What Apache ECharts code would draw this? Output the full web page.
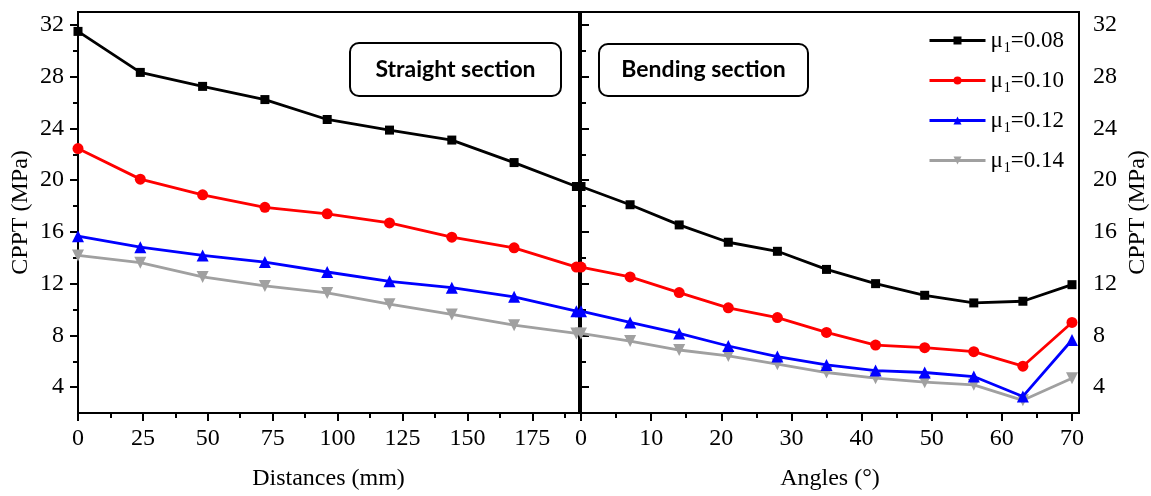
<!DOCTYPE html>
<html>
<head>
<meta charset="utf-8">
<script src="https://cdn.jsdelivr.net/npm/echarts@6/dist/echarts.min.js"></script>
<style>
html, body { margin: 0; padding: 0; background: #fff; }
#chart { width: 1151px; height: 496px; }
</style>
</head>
<body>
<div id="chart"></div>
<script>
// Sample positions along the pipe
const distances = [0, 24, 48, 72, 96, 120, 144, 168, 192];
const angles = [0, 7, 14, 21, 28, 35, 42, 49, 56, 63, 70];

// Friction coefficients
const muValues = ['0.08', '0.10', '0.12', '0.14'];

// CPPT (MPa) in the straight section
const straight008 = [31.5, 28.33, 27.25, 26.23, 24.69, 23.87, 23.1, 21.36, 19.51];
const straight010 = [22.44, 20.08, 18.87, 17.9, 17.4, 16.69, 15.59, 14.77, 13.28];
const straight012 = [15.67, 14.82, 14.18, 13.67, 12.9, 12.18, 11.69, 10.98, 9.87];
const straight014 = [14.18, 13.62, 12.52, 11.82, 11.28, 10.41, 9.62, 8.79, 8.15];

// CPPT (MPa) in the bending section
const bending008 = [19.51, 18.1, 16.54, 15.2, 14.5, 13.1, 12.0, 11.1, 10.51, 10.64, 11.92];
const bending010 = [13.28, 12.52, 11.31, 10.13, 9.38, 8.23, 7.25, 7.05, 6.74, 5.62, 9.0];
const bending012 = [9.87, 9.0, 8.15, 7.18, 6.36, 5.72, 5.28, 5.13, 4.82, 3.28, 7.64];
const bending014 = [8.15, 7.56, 6.87, 6.41, 5.77, 5.13, 4.69, 4.38, 4.18, 2.98, 4.69];

// Tick values
const yTicks = [4, 8, 12, 16, 20, 24, 28, 32];
const yMinorTicks = [6, 10, 14, 18, 22, 26, 30];
const distanceTicks = [0, 25, 50, 75, 100, 125, 150, 175];
const distanceMinorTicks = [12.5, 37.5, 62.5, 87.5, 112.5, 137.5, 162.5, 187.5];
const angleTicks = [0, 10, 20, 30, 40, 50, 60, 70];
const angleMinorTicks = [5, 15, 25, 35, 45, 55, 65];

const straightSets = [straight008, straight010, straight012, straight014];
const bendingSets = [bending008, bending010, bending012, bending014];

const colors = ['#000000', '#ff0000', '#0000ff', '#a0a0a0'];
const symbols = ['rect', 'circle', 'triangle', 'path://M0,0 L10,0 L5,9 Z'];
const symbolSizes = [9, 11, 12, 12];

const serif = '"Liberation Serif", "Times New Roman", serif';
const seriesName = mu => 'μ1=' + mu;

function majorX(grid, min, max, ticks, name) {
  return {
    type: 'value', gridIndex: grid, min: min, max: max, position: 'bottom',
    name: name, nameLocation: 'middle', nameGap: 54,
    nameTextStyle: { fontFamily: serif, fontSize: 24, color: '#000' },
    axisLine: { show: true, lineStyle: { color: '#000', width: 2 } },
    axisTick: { show: true, length: 8, customValues: ticks, lineStyle: { color: '#000', width: 2 } },
    axisLabel: { show: true, customValues: ticks, margin: 14, fontFamily: serif, fontSize: 24, color: '#000' },
    splitLine: { show: false }
  };
}
function minorX(grid, min, max, ticks) {
  return {
    type: 'value', gridIndex: grid, min: min, max: max, position: 'bottom',
    axisLine: { show: false },
    axisTick: { show: true, length: 5, customValues: ticks, lineStyle: { color: '#000', width: 2 } },
    axisLabel: { show: false },
    splitLine: { show: false }
  };
}
function majorY(grid, pos, gap) {
  return {
    type: 'value', gridIndex: grid, min: 2, max: 33, position: pos,
    name: 'CPPT (MPa)', nameLocation: 'middle', nameGap: gap, nameRotate: 90,
    nameTextStyle: { fontFamily: serif, fontSize: 24, color: '#000' },
    axisLine: { show: true, lineStyle: { color: '#000', width: 2 } },
    axisTick: { show: true, length: 8, customValues: yTicks, lineStyle: { color: '#000', width: 2 } },
    axisLabel: { show: true, customValues: yTicks, margin: 14, fontFamily: serif, fontSize: 24, color: '#000' },
    splitLine: { show: false }
  };
}
function minorY(grid, pos) {
  return {
    type: 'value', gridIndex: grid, min: 2, max: 33, position: pos,
    axisLine: { show: false },
    axisTick: { show: true, length: 5, customValues: yMinorTicks, lineStyle: { color: '#000', width: 2 } },
    axisLabel: { show: false },
    splitLine: { show: false }
  };
}

const series = [];
muValues.forEach((mu, k) => {
  const common = {
    type: 'line', name: seriesName(mu),
    symbol: symbols[k], symbolSize: symbolSizes[k],
    lineStyle: { color: colors[k], width: 2.8 },
    itemStyle: { color: colors[k] },
    animation: false, z: 10 - k
  };
  series.push(Object.assign({}, common, {
    xAxisIndex: 0, yAxisIndex: 0,
    data: distances.map((d, i) => [d, straightSets[k][i]])
  }));
  series.push(Object.assign({}, common, {
    xAxisIndex: 2, yAxisIndex: 2,
    data: angles.map((a, i) => [a, bendingSets[k][i]])
  }));
});

function sectionBox(x, y, w, h, label) {
  return [
    { type: 'rect', z: 20, shape: { x: x, y: y, width: w, height: h, r: 9 },
      style: { fill: '#fff', stroke: '#000', lineWidth: 2 } },
    { type: 'text', z: 21, x: x + w / 2, y: y + h / 2,
      style: { text: label, fontFamily: 'Lato, "Open Sans", sans-serif', fontWeight: 'bold',
               fontSize: 23, fill: '#000', align: 'center', verticalAlign: 'middle' } }
  ];
}

const chart = echarts.init(document.getElementById('chart'), null, { renderer: 'canvas' });
chart.setOption({
  backgroundColor: '#fff',
  animation: false,
  grid: [
    { left: 78, top: 12, width: 501, height: 403, show: true, borderColor: '#000', borderWidth: 2, containLabel: false },
    { left: 581, top: 12, width: 498, height: 403, show: true, borderColor: '#000', borderWidth: 2, containLabel: false }
  ],
  xAxis: [
    majorX(0, 0, 193, distanceTicks, 'Distances (mm)'),
    minorX(0, 0, 193, distanceMinorTicks),
    majorX(1, 0, 71, angleTicks, 'Angles (°)'),
    minorX(1, 0, 71, angleMinorTicks)
  ],
  yAxis: [
    majorY(0, 'left', 45),
    minorY(0, 'left'),
    majorY(1, 'right', 47),
    minorY(1, 'right')
  ],
  legend: {
    data: muValues.map(seriesName),
    orient: 'vertical', left: 923, top: 21,
    itemWidth: 56, itemHeight: 10, itemGap: 11,
    lineStyle: { width: 3 },
    formatter: name => '{m|μ}{s|1}{m|=' + name.split('=')[1] + '}',
    textStyle: {
      rich: {
        m: { fontFamily: serif, fontSize: 23, color: '#000', lineHeight: 27 },
        s: { fontFamily: serif, fontSize: 14, color: '#000', lineHeight: 27, padding: [15, 0, 0, 1] }
      }
    }
  },
  graphic: [].concat(
    sectionBox(350, 43, 211, 53, 'Straight section'),
    sectionBox(599, 44, 209, 52, 'Bending section')
  ),
  series: series
});
</script>
</body>
</html>
